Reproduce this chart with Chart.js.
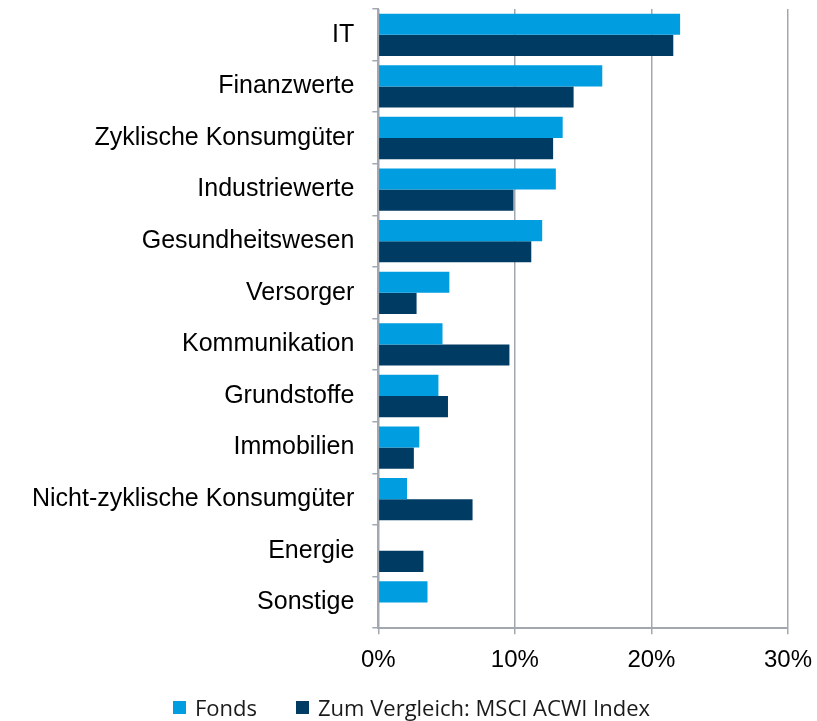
<!DOCTYPE html>
<html>
<head>
<meta charset="utf-8">
<script src="https://cdn.jsdelivr.net/npm/chart.js@4/dist/chart.umd.min.js"></script>
<style>
  html, body { margin: 0; padding: 0; background: #fff; }
  #wrap { width: 817px; height: 721px; position: relative; overflow: hidden; }
  #chartBox { position: absolute; left: 0; top: -24px; width: 824px; height: 745px; }
  #legend {
    position: absolute; left: 0; width: 817px; top: 692px;
    display: flex; justify-content: center; gap: 39px;
    font-family: 'Open Sans', sans-serif; font-size: 22px; color: #1a1a1a;
    padding-left: 6px; box-sizing: border-box;
  }
  .item { display: flex; align-items: center; gap: 9px; line-height: 30px; }
  .box { width: 13px; height: 13px; display: inline-block; }
</style>
</head>
<body>
<div id="wrap">
  <div id="chartBox"><canvas id="sectorChart"></canvas></div>
  <div id="legend"></div>
</div>
<script>
const sektoren = ['IT', 'Finanzwerte', 'Zyklische Konsumgüter', 'Industriewerte', 'Gesundheitswesen',
    'Versorger', 'Kommunikation', 'Grundstoffe', 'Immobilien', 'Nicht-zyklische Konsumgüter',
    'Energie', 'Sonstige'];
const fonds = [22.1, 16.4, 13.5, 13.0, 12.0, 5.2, 4.7, 4.4, 3.0, 2.1, 0, 3.6];
const msciAcwi = [21.6, 14.3, 12.8, 9.9, 11.2, 2.8, 9.6, 5.1, 2.6, 6.9, 3.3, 0];
const xTicks = [0, 10, 20, 30];

const axisColor = '#a3a8b0';

const chart = new Chart(document.getElementById('sectorChart'), {
    type: 'bar',
    data: {
        labels: sektoren,
        datasets: [{
            label: 'Fonds',
            data: fonds,
            backgroundColor: '#009ee0',
            borderWidth: 0
        }, {
            label: 'Zum Vergleich: MSCI ACWI Index',
            data: msciAcwi,
            backgroundColor: '#003b63',
            borderWidth: 0
        }]
    },
    options: {
        indexAxis: 'y',
        responsive: true,
        maintainAspectRatio: false,
        animation: false,
        layout: { padding: { top: 0, right: 21, left: 14, bottom: 34 } },
        datasets: { bar: { categoryPercentage: 0.82, barPercentage: 1.0 } },
        plugins: {
            tooltip: { enabled: false },
            legend: { display: false }
        },
        scales: {
            x: {
                min: xTicks[0],
                max: xTicks[xTicks.length - 1],
                afterBuildTicks: axis => { axis.ticks = xTicks.map(v => ({ value: v })); },
                grid: { color: axisColor, lineWidth: 1.5, tickLength: 6 },
                border: { color: axisColor, width: 2 },
                ticks: {
                    color: '#000',
                    font: { family: 'Liberation Sans', size: 24 },
                    padding: 12,
                    callback: v => v + '%'
                }
            },
            y: {
                grid: { drawOnChartArea: false, color: axisColor, tickLength: 6, lineWidth: 1.5 },
                border: { color: axisColor, width: 2 },
                ticks: {
                    color: '#000',
                    font: { family: 'Liberation Sans', size: 25 },
                    padding: 18
                }
            }
        }
    }
});

// Legende als HTML unter dem Diagramm
document.getElementById('legend').innerHTML = chart.data.datasets.map(ds => `
    <span class="item"><span class="box" style="background:${ds.backgroundColor}"></span>${ds.label}</span>
`).join('');
</script>
</body>
</html>
